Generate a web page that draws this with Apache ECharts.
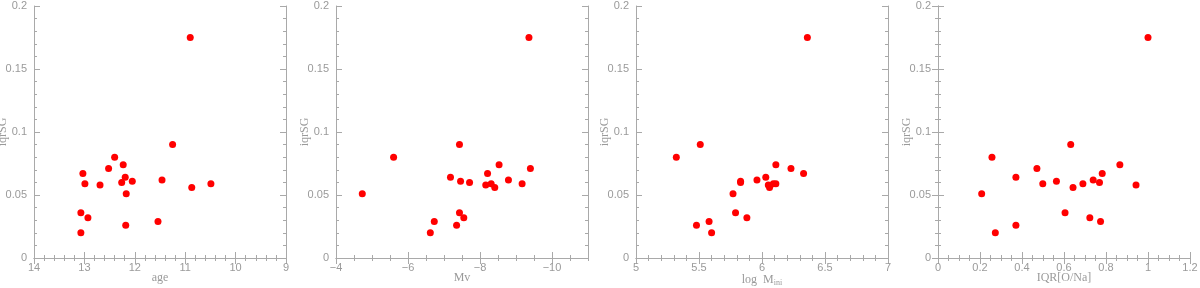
<!DOCTYPE html>
<html>
<head>
<meta charset="utf-8">
<script src="https://cdn.jsdelivr.net/npm/echarts@6/dist/echarts.min.js"></script>
<style>
html, body { margin: 0; padding: 0; background: #fff; }
#chart { width: 1200px; height: 288px; }
</style>
</head>
<body>
<div id="chart"></div>
<script>
// iqrSG of every cluster, the x arrays below follow the same order
const iqrSG   = [0.175, 0.090, 0.080, 0.074, 0.071, 0.067, 0.064, 0.062, 0.061, 0.060,
                 0.059, 0.059, 0.058, 0.056, 0.051, 0.036, 0.032, 0.029, 0.026, 0.020];
const age     = [10.90, 11.25, 12.40, 12.23, 12.52, 13.03, 12.19, 11.46, 12.05, 12.26,
                 12.99, 10.49, 12.69, 10.87, 12.17, 13.07, 12.93, 11.54, 12.18, 13.07];
const mv      = [-9.36, -7.43, -5.60, -8.53, -9.40, -8.21, -7.18, -8.79, -7.46, -7.71,
                 -8.31, -9.17, -8.16, -8.41, -4.73, -7.43, -7.55, -6.73, -7.35, -6.62];
const logMini = [6.36, 5.51, 5.32, 6.11, 6.23, 6.33, 6.03, 5.96, 5.83, 5.83,
                 6.09, 6.11, 6.05, 6.06, 5.77, 5.79, 5.88, 5.58, 5.48, 5.60];
const iqrONa  = [1.00, 0.632, 0.257, 0.866, 0.471, 0.782, 0.371, 0.739, 0.564, 0.769,
                 0.499, 0.690, 0.943, 0.643, 0.208, 0.605, 0.723, 0.774, 0.371, 0.273];

const xNames = ['age', 'Mv', 'log  M{sub|ini}', 'IQR[O/Na]'];
const yName = 'iqrSG';

const GRAY = '#a9a9a9';
const LABEL = '#9a9a9a';

let myChart = echarts.init(document.getElementById('chart'));

// one entry per panel: x data, axis range, major and minor tick steps
let panels = [
    {x: age,     min: 9,   max: 14,  interval: 1,   step: 0.2,  inverse: true},
    {x: mv,      min: -11, max: -4,  interval: 1,   step: 0.5,  inverse: true, majors: [-10, -8, -6, -4]},
    {x: logMini, min: 5,   max: 7,   interval: 0.5, step: 0.1,  inverse: false},
    {x: iqrONa,  min: 0,   max: 1.2, interval: 0.2, step: 0.05, inverse: false}
];
let lefts = [34, 336, 636, 938];

let grids = [], xAxes = [], yAxes = [], series = [];
let line = {show: true, lineStyle: {color: GRAY, width: 1}};

function tickStyle(len, custom) {
    let t = {show: true, inside: true, length: len, lineStyle: {color: GRAY}};
    if (custom) t.customValues = custom;
    return t;
}

// axis that only draws short inside ticks at the minor step
function minorAxis(base, step, position) {
    return Object.assign({}, base, {
        position: position, interval: step,
        axisLine: {show: false}, axisTick: tickStyle(3),
        axisLabel: {show: false}, splitLine: {show: false},
        name: '', silent: true
    });
}

panels.forEach(function (p, i) {
    // v6 would shrink the grid to keep names inside; keep the fixed box instead
    grids.push({left: lefts[i], top: 6, width: 252, height: 252,
                containLabel: false, outerBoundsMode: 'none'});

    let xBase = {type: 'value', gridIndex: i, min: p.min, max: p.max, inverse: p.inverse};
    let yBase = {type: 'value', gridIndex: i, min: 0, max: 0.2};

    let xIndex = xAxes.length;
    xAxes.push(Object.assign({}, xBase, {
        position: 'bottom', interval: p.interval,
        name: xNames[i], nameLocation: 'middle', nameGap: 14, nameMoveOverlap: false,
        nameTextStyle: {
            color: LABEL, fontSize: 12, fontFamily: 'Liberation Serif',
            rich: {sub: {fontSize: 8, fontFamily: 'Liberation Serif', color: LABEL, padding: [7, 0, 0, 0]}}
        },
        axisLine: line, axisTick: tickStyle(6, p.majors),
        axisLabel: {
            show: true, color: LABEL, fontSize: 11, margin: 4,
            fontFamily: 'Liberation Sans',
            formatter: function (v) {
                if (p.majors && p.majors.indexOf(Math.round(v)) < 0) return '';
                if (v < 0) return '\u2212' + (-v);
                return String(+v.toFixed(2));
            }
        },
        splitLine: {show: false}
    }));
    xAxes.push(Object.assign({}, xBase, {
        position: 'top', interval: p.interval,
        axisLine: line, axisTick: tickStyle(6, p.majors),
        axisLabel: {show: false}, splitLine: {show: false}
    }));
    xAxes.push(minorAxis(xBase, p.step, 'bottom'));
    xAxes.push(minorAxis(xBase, p.step, 'top'));

    let yIndex = yAxes.length;
    yAxes.push(Object.assign({}, yBase, {
        position: 'left', interval: 0.05,
        name: yName, nameLocation: 'middle', nameGap: 25, nameMoveOverlap: false,
        nameTextStyle: {color: LABEL, fontSize: 12, fontFamily: 'Liberation Serif'},
        axisLine: line, axisTick: tickStyle(6),
        axisLabel: {color: LABEL, fontSize: 11, margin: 7, fontFamily: 'Liberation Sans'},
        splitLine: {show: false}
    }));
    yAxes.push(Object.assign({}, yBase, {
        position: 'right', interval: 0.05,
        axisLine: line, axisTick: tickStyle(6),
        axisLabel: {show: false}, splitLine: {show: false}
    }));
    yAxes.push(minorAxis(yBase, 0.01, 'left'));
    yAxes.push(minorAxis(yBase, 0.01, 'right'));

    series.push({
        type: 'scatter',
        xAxisIndex: xIndex,
        yAxisIndex: yIndex,
        symbolSize: 7,
        itemStyle: {color: '#ff0000', opacity: 1},
        data: p.x.map(function (v, k) { return [v, iqrSG[k]]; })
    });
});

let option = {
    animation: false,
    backgroundColor: '#ffffff',
    grid: grids,
    xAxis: xAxes,
    yAxis: yAxes,
    series: series
};

myChart.setOption(option);
</script>
</body>
</html>
